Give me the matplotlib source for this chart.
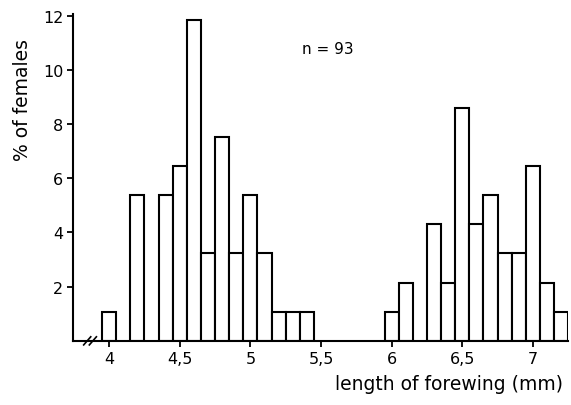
import matplotlib.pyplot as plt
import numpy as np

# forewing length classes (mm) and number of females per class
lengths = [4.0, 4.2, 4.4, 4.5, 4.6, 4.7, 4.8, 4.9, 5.0, 5.1, 5.2, 5.3, 5.4,
           6.0, 6.1, 6.3, 6.4, 6.5, 6.6, 6.7, 6.8, 6.9, 7.0, 7.1, 7.2]
counts = [1, 5, 5, 6, 11, 3, 7, 3, 5, 3, 1, 1, 1,
          1, 2, 4, 2, 8, 4, 5, 3, 3, 6, 2, 1]
n_total = 93

xticks = [4, 4.5, 5, 5.5, 6, 6.5, 7]
xticklabels = ['4', '4,5', '5', '5,5', '6', '6,5', '7']
yticks = [2, 4, 6, 8, 10, 12]

percent = np.array(counts) / n_total * 100

fig = plt.figure(figsize=(5.71, 4.06), dpi=100)
ax = fig.add_axes([0.128, 0.158, 0.867, 0.804])

ax.bar(lengths, percent, width=0.1, color='white', edgecolor='black', linewidth=1.5)

ax.set_xlim(3.745, 7.25)
ax.set_ylim(0, 12.05)
ax.set_xticks(xticks)
ax.set_xticklabels(xticklabels)
ax.set_yticks(yticks)

for s in ['top', 'right']:
    ax.spines[s].set_visible(False)
for s in ['left', 'bottom']:
    ax.spines[s].set_linewidth(1.5)
ax.tick_params(direction='out', length=4, width=1.3, labelsize=11.5, pad=3)

# axis break marks
for x0 in [3.82, 3.86]:
    ax.plot([x0, x0 + 0.05], [-0.15, 0.15], color='black', lw=1.2, clip_on=False)

ax.text(5.55, 10.8, 'n = 93', fontsize=11, ha='center', va='center')

fig.text(0.986, 0.052, 'length of forewing (mm)', fontsize=13.5, ha='right', va='center')
fig.text(0.04, 0.754, '% of females', fontsize=13.5, rotation=90, ha='center', va='center')

plt.savefig('out.png', dpi=100)
